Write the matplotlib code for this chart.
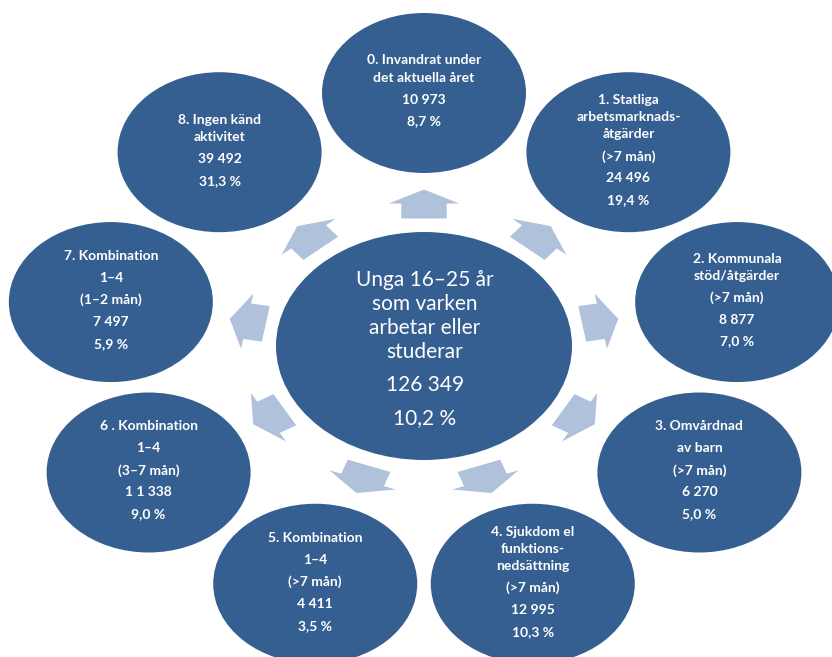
import numpy as np
import matplotlib.pyplot as plt
from matplotlib.patches import Ellipse, Polygon

# データ
titles = [
    ["0. Invandrat under\ndet aktuella året"],
    ["1. Statliga\narbetsmarknads-\nåtgärder"],
    ["2. Kommunala\nstöd/åtgärder"],
    ["3. Omvårdnad", "av barn"],
    ["4. Sjukdom el\nfunktions-\nnedsättning"],
    ["5. Kombination", "1–4"],
    ["6 . Kombination", "1–4"],
    ["7. Kombination", "1–4"],
    ["8. Ingen känd\naktivitet"],
]
periods = ["", "(>7 mån)", "(>7 mån)", "(>7 mån)", "(>7 mån)",
           "(>7 mån)", "(3–7 mån)", "(1–2 mån)", ""]
counts = ["10 973", "24 496", "8 877", "6 270", "12 995",
          "4 411", "1 1 338", "7 497", "39 492"]
shares = ["8,7 %", "19,4 %", "7,0 %", "5,0 %", "10,3 %",
          "3,5 %", "9,0 %", "5,9 %", "31,3 %"]

center_title = ["Unga 16–25 år", "som varken", "arbetar eller", "studerar"]
center_count = "126 349"
center_share = "10,2 %"

node_color = '#365f91'
arrow_color = '#b0c1dc'

fig = plt.figure(figsize=(8.32, 6.57), dpi=100)
ax = fig.add_axes([0, 0, 1, 1])
ax.set_xlim(0, 832)
ax.set_ylim(657, 0)
ax.axis('off')

cx, cy = 424, 346
ring_rx, ring_ry = 318, 253
stretch = 1.26


def draw_lines(x, y_mid, groups, size, weight, step_in, step_out):
    # 行の位置を計算して中央揃えで描く
    ys = []
    lines = []
    y = 0
    for gi, g in enumerate(groups):
        for li, line in enumerate(g.split("\n")):
            if lines:
                y += step_in if li > 0 else step_out
            ys.append(y)
            lines.append(line)
    off = y_mid - (ys[0] + ys[-1]) / 2
    for line, yy in zip(lines, ys):
        ax.text(x, yy + off, line, ha='center', va='center', color='white',
                fontsize=size, fontweight=weight, family=['Lato', 'DejaVu Sans'])


# 矢印
shape = np.array([[-14.5, -18], [0.5, -18], [0.5, -28], [14.5, 0],
                  [0.5, 28], [0.5, 18], [-14.5, 18]])
for k in range(len(titles)):
    th = np.radians(90 - 40 * k)
    e = np.array([np.cos(th), np.sin(th)])
    n = np.array([-np.sin(th), np.cos(th)])
    pts = []
    for a, b in shape:
        p = (142 + a) * e + b * n
        pts.append((cx + stretch * p[0], cy - p[1]))
    ax.add_patch(Polygon(pts, closed=True, facecolor=arrow_color, edgecolor='none'))

# 中央の円
ax.add_patch(Ellipse((cx, cy), 296, 228, facecolor=node_color, edgecolor='none'))
draw_lines(cx + 1, 349, ["\n".join(center_title), center_count, center_share],
           15, 'normal', 24, 33)

# 周りの円
for k in range(len(titles)):
    th = np.radians(90 - 40 * k)
    x = cx + ring_rx * np.cos(th)
    y = cy - ring_ry * np.sin(th)
    ax.add_patch(Ellipse((x, y), 204, 160, facecolor=node_color, edgecolor='none'))
    groups = list(titles[k])
    if periods[k]:
        groups.append(periods[k])
    groups += [counts[k], shares[k]]
    draw_lines(x, y - 2, groups, 10, 'bold', 17, 22)

fig.savefig("out.png", dpi=100)
